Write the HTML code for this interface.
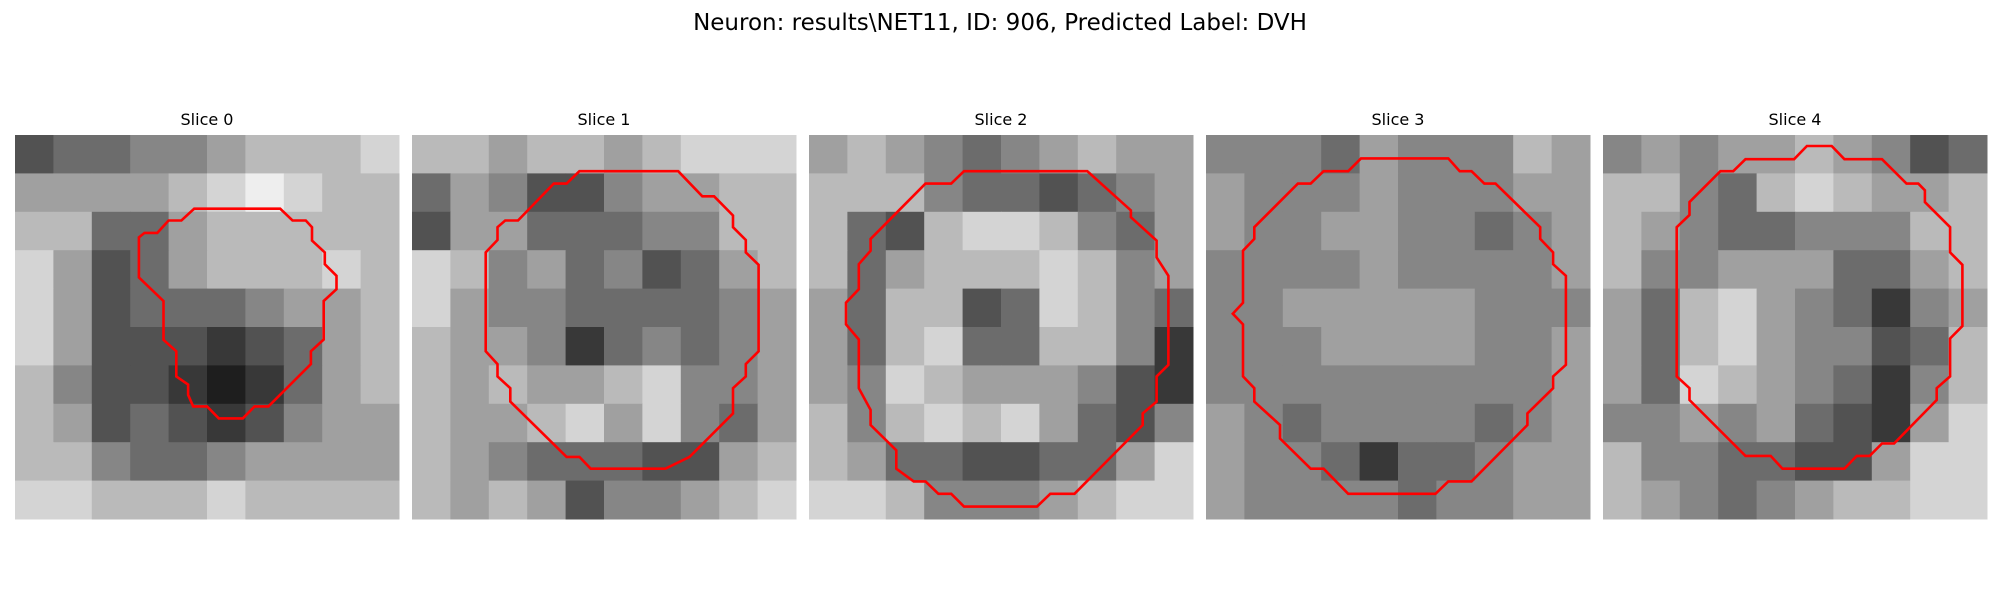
<!DOCTYPE html>
<html><head><meta charset="utf-8"><style>
body{margin:0;background:#fff;width:2000px;height:600px;overflow:hidden;font-family:"Liberation Sans","DejaVu Sans",sans-serif;}
</style></head><body>
<svg id="fig" width="2000" height="600" xmlns="http://www.w3.org/2000/svg">
<text x="1000" y="30" text-anchor="middle" font-size="23" fill="#000" font-family="DejaVu Sans, Liberation Sans, sans-serif">Neuron: results\NET11, ID: 906, Predicted Label: DVH</text>
</svg>
<script>
const sliceTitles = ["Slice 0","Slice 1","Slice 2","Slice 3","Slice 4"];
const grid0 = [[3,4,4,5,5,6,7,7,7,8],[6,6,6,6,7,8,9,8,7,7],[7,7,4,4,6,7,7,7,7,7],[8,6,3,4,6,7,7,7,8,7],[8,6,3,4,4,4,5,6,6,7],[8,6,3,3,3,2,3,4,6,7],[7,5,3,3,2,1,2,4,6,7],[7,6,3,4,3,2,3,5,6,6],[7,7,5,4,4,5,6,6,6,6],[8,8,7,7,7,8,7,7,7,7]];
const grid1 = [[7,7,6,7,7,6,7,8,8,8],[4,6,5,3,3,5,6,6,7,7],[3,6,6,4,4,4,5,5,7,7],[8,7,5,6,4,5,3,4,6,7],[8,6,5,5,4,4,4,4,5,6],[7,6,6,5,2,4,5,4,5,6],[7,6,7,6,6,7,8,5,5,6],[7,6,6,7,8,6,8,5,4,6],[7,6,5,4,4,4,3,3,6,7],[7,6,7,6,3,5,5,6,7,8]];
const grid2 = [[6,7,6,5,4,5,6,7,6,6],[7,7,7,5,4,4,3,4,5,6],[7,4,3,7,8,8,7,5,4,6],[7,4,6,7,7,7,8,7,5,6],[6,4,7,7,3,4,8,7,5,4],[6,4,7,8,4,4,7,7,5,2],[6,5,8,7,6,6,6,5,3,2],[7,5,7,8,7,8,6,4,3,5],[7,6,4,4,3,3,4,4,6,8],[8,8,7,5,5,5,6,7,8,8]];
const grid3 = [[5,5,5,4,6,5,5,5,7,6],[6,5,5,5,6,5,5,5,6,6],[6,5,5,6,6,5,5,4,5,6],[5,5,5,5,6,5,5,5,5,6],[5,5,6,6,6,6,6,5,5,5],[5,5,5,6,6,6,6,5,5,6],[5,5,5,5,5,5,5,5,5,6],[6,5,4,5,5,5,5,4,5,6],[6,5,5,4,2,4,4,5,6,6],[6,5,5,5,5,4,5,5,6,6]];
const grid4 = [[5,6,5,6,6,7,6,5,3,4],[7,7,5,4,7,8,7,6,6,7],[7,6,5,4,4,5,5,5,7,7],[7,5,5,6,6,6,4,4,6,7],[6,4,7,8,6,5,4,2,5,6],[6,4,7,8,6,5,5,3,4,7],[6,4,8,7,6,5,4,2,5,7],[5,5,6,5,6,4,3,2,6,8],[7,5,5,4,4,3,3,6,8,8],[7,6,5,4,5,6,7,7,8,8]];
const contour0 = [[14,5.76],[20.72,5.76],[21.68,6.68],[22.72,6.68],[23.2,7.2],[23.2,8.25],[24.2,9.17],[24.2,10.09],[25.12,11],[25.12,12.05],[24.12,12.97],[24.12,15.98],[23.12,16.9],[23.12,17.9],[19.8,21.2],[18.72,21.2],[17.8,22.14],[15.92,22.14],[15,21.2],[13.92,21.2],[13.52,20.3],[13.52,19.5],[12.6,18.86],[12.6,16.9],[11.6,16],[11.6,12.97],[9.68,11.13],[9.68,8],[10.12,7.65],[11.12,7.65],[12,6.68],[13,6.68]];
const contour1 = [[13.08,2.83],[20.8,2.83],[22.68,4.79],[23.6,4.79],[25.08,6.29],[25.08,7.2],[26.08,8.2],[26.08,9.17],[27.08,10.14],[27.08,16.9],[26.08,17.9],[26.08,18.86],[25.08,19.78],[25.08,21.75],[21.68,25.15],[19.8,26.07],[13.96,26.07],[13.08,25.15],[12.08,25.15],[7.68,20.83],[7.68,19.78],[6.68,18.86],[6.68,17.9],[5.76,16.9],[5.76,9.17],[6.68,8.2],[6.68,7.2],[7.28,6.68],[8.28,6.68],[11.08,3.8],[12.08,3.8]];
const contour2 = [[12.11,2.83],[21.74,2.83],[25.15,5.89],[25.15,6.42],[27.16,8.25],[27.16,9.56],[28.08,11],[28.08,17.95],[27.16,18.86],[27.16,20.83],[26.07,21.75],[26.07,22.66],[20.74,28.03],[18.85,28.03],[17.81,29.03],[12.11,29.03],[11.11,28.03],[10.11,28.03],[9.1,27.06],[8.18,27.06],[6.82,26.07],[6.82,24.63],[4.81,22.66],[4.81,21.48],[3.89,19.78],[3.89,15.98],[2.89,14.8],[2.89,13.1],[3.89,12.05],[3.89,10.09],[4.81,9.04],[4.81,8.12],[9.1,3.8],[11.11,3.8]];
const contour3 = [[12.11,1.83],[18.93,1.83],[19.82,2.83],[20.74,2.83],[21.74,3.8],[22.62,3.8],[26.11,7.2],[26.11,8.12],[27.12,9.17],[27.12,10.09],[28.12,11],[28.12,17.95],[27.12,18.86],[27.12,19.78],[25.11,21.75],[25.11,22.66],[20.74,27.06],[18.93,27.06],[17.93,28.03],[11.11,28.03],[9.19,26.07],[8.18,26.07],[5.78,23.71],[5.78,22.66],[3.77,20.83],[3.77,19.78],[2.89,18.86],[2.89,14.8],[2.09,13.96],[2.89,13.1],[2.89,9.04],[3.77,8.12],[3.77,7.2],[7.18,3.8],[8.18,3.8],[9.19,2.83],[11.11,2.83]];
const contour4 = [[15.93,0.86],[17.87,0.86],[18.86,1.89],[21.8,1.89],[23.71,3.8],[24.63,3.8],[25.15,4.32],[25.15,5.24],[27.12,7.2],[27.12,9.17],[28.08,10.14],[28.08,14.93],[27.12,15.9],[27.12,18.86],[26.07,19.78],[26.07,20.7],[22.74,24.1],[21.8,24.1],[20.83,25.07],[19.83,25.07],[18.86,26.07],[14.02,26.07],[13.1,25.07],[11.13,25.07],[6.76,20.7],[6.76,19.78],[5.76,18.86],[5.76,7.2],[6.76,6.24],[6.76,5.24],[9.17,2.83],[10.17,2.83],[11.13,1.89],[14.93,1.89]];
const grids=[grid0,grid1,grid2,grid3,grid4];
const contours=[contour0,contour1,contour2,contour3,contour4];
const NS="http://www.w3.org/2000/svg";
const svg=document.getElementById('fig');
const panelX0=15, panelPitch=397, panelY=135, panelSize=384, nPix=30;
function px(i,g){return panelX0+i*panelPitch+g*panelSize/nPix;}
function py(g){return panelY+g*panelSize/nPix;}
function gray(v){const c=Math.round(Math.min(255,v*26+4));return `rgb(${c},${c},${c})`;}
grids.forEach((grid,i)=>{
  const g=document.createElementNS(NS,'g');
  
  
  const n=grid.length, step=nPix/n;
  grid.forEach((row,r)=>row.forEach((v,c)=>{
    const rc=document.createElementNS(NS,'rect');
    
    
    rc.setAttribute('x',px(i,c*step));rc.setAttribute('y',py(r*step));
    rc.setAttribute('width',panelSize/n+0.5);rc.setAttribute('height',panelSize/n+0.5);
    rc.setAttribute('fill',gray(v));
    g.appendChild(rc);
  }));
  const poly=document.createElementNS(NS,'polygon');
  
  
  poly.setAttribute('points',contours[i].map(p=>px(i,p[0]).toFixed(1)+','+py(p[1]).toFixed(1)).join(' '));
  poly.setAttribute('fill','none');poly.setAttribute('stroke','#ff0000');poly.setAttribute('stroke-width','2.6');
  g.appendChild(poly);
  const t=document.createElementNS(NS,'text');
  
  
  t.setAttribute('x',px(i,nPix/2));t.setAttribute('y',125);
  t.setAttribute('text-anchor','middle');t.setAttribute('font-size','16');
  t.setAttribute('font-family','DejaVu Sans, Liberation Sans, sans-serif');
  t.textContent=sliceTitles[i];
  g.appendChild(t);
  svg.appendChild(g);
});
</script>
</body></html>
